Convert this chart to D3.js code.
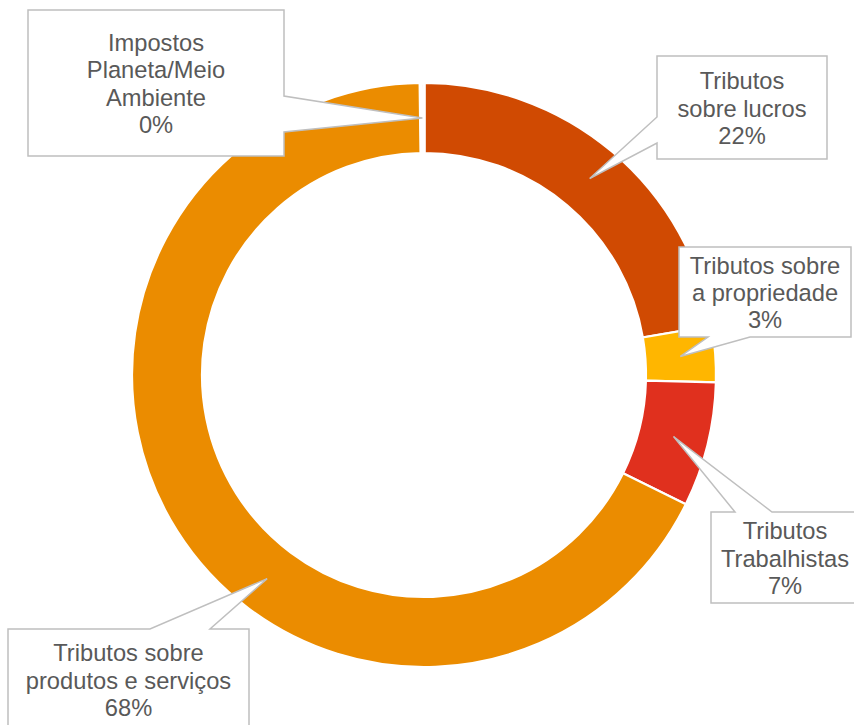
<!DOCTYPE html>
<html><head><meta charset="utf-8">
<script src="https://cdn.jsdelivr.net/npm/d3@7"></script>
<style>html,body{margin:0;padding:0;background:#fff;}</style>
</head><body>
<svg id="chart" width="854" height="725"></svg>
<script>
// Data
const categories = ["Tributos sobre lucros", "Tributos sobre a propriedade", "Tributos Trabalhistas", "Tributos sobre produtos e serviços", "Impostos Planeta/Meio Ambiente"];
const values = [22.3, 3.1, 6.9, 67.5, 0.2];
const percentLabels = ["22%", "3%", "7%", "68%", "0%"];
const labelLines = [["Tributos", "sobre lucros"], ["Tributos sobre", "a propriedade"], ["Tributos", "Trabalhistas"], ["Tributos sobre", "produtos e serviços"], ["Impostos", "Planeta/Meio", "Ambiente"]];
const colors = ["#D04A02", "#FFB600", "#E0301E", "#EB8C00", "#DB536A"];

// Layout of callouts (box + pointer base on an edge)
const callouts = [
  {x:657, y:56,  w:170, h:103, side:"left",   b:[117,143], at:0.5},
  {x:679, y:247, w:172, h:90,  side:"bottom", b:[708,750], at:0.5},
  {x:711, y:512, w:148, h:91,  side:"top",    b:[735,772], at:0.5},
  {x:8,   y:629, w:241, h:101, side:"top",    b:[150,210], at:0.417},
  {x:28,  y:10,  w:256, h:146, side:"right",  b:[96,132],  at:0.5}
];

const svg = d3.select("#chart");
const cx = 424, cy = 375, rOuter = 292, rInner = 222;
const g = svg.append("g").attr("transform", `translate(${cx},${cy})`);

const pie = d3.pie().sort(null).value(d => d)(values);
const arc = d3.arc().innerRadius(rInner).outerRadius(rOuter);

g.selectAll("path.slice").data(pie).enter().append("path")
  .attr("class", "slice")
  .attr("d", arc)
  .attr("fill", (d, i) => colors[i])
  .attr("stroke", "#fff")
  .attr("stroke-width", (d, i) => i === 4 ? 3.6 : 2.2);

const rMid = (rInner + rOuter) / 2;
function tipOf(d, i) {
  const a = d.startAngle + (d.endAngle - d.startAngle) * callouts[i].at;
  return [cx + rMid * Math.sin(a), cy - rMid * Math.cos(a)];
}

function calloutPath(c, tip) {
  const x0 = c.x, y0 = c.y, x1 = c.x + c.w, y1 = c.y + c.h;
  const p = d3.path();
  p.moveTo(x0, y0);
  if (c.side === "top") { p.lineTo(c.b[0], y0); p.lineTo(tip[0], tip[1]); p.lineTo(c.b[1], y0); }
  p.lineTo(x1, y0);
  if (c.side === "right") { p.lineTo(x1, c.b[0]); p.lineTo(tip[0], tip[1]); p.lineTo(x1, c.b[1]); }
  p.lineTo(x1, y1);
  if (c.side === "bottom") { p.lineTo(c.b[1], y1); p.lineTo(tip[0], tip[1]); p.lineTo(c.b[0], y1); }
  p.lineTo(x0, y1);
  if (c.side === "left") { p.lineTo(x0, c.b[1]); p.lineTo(tip[0], tip[1]); p.lineTo(x0, c.b[0]); }
  p.closePath();
  return p.toString();
}

const fontSize = 23.7, lineH = 27.4;
pie.forEach((d, i) => {
  const c = callouts[i];
  const tip = tipOf(d, i);
  svg.append("path")
    .attr("d", calloutPath(c, tip))
    .attr("fill", "#fff")
    .attr("stroke", "#BFBFBF")
    .attr("stroke-width", 1.5)
    .attr("stroke-linejoin", "miter");
  const lines = labelLines[i].concat([percentLabels[i]]);
  const mx = c.x + c.w / 2, my = c.y + c.h / 2;
  const t = svg.append("text")
    .attr("text-anchor", "middle")
    .attr("font-family", "Liberation Sans, Arial, sans-serif")
    .attr("font-size", fontSize)
    .attr("fill", "#595959");
  lines.forEach((ln, k) => {
    t.append("tspan")
      .attr("x", mx)
      .attr("y", my + (k - (lines.length - 1) / 2) * lineH + 9)
      .text(ln);
  });
});
</script>
</body></html>
